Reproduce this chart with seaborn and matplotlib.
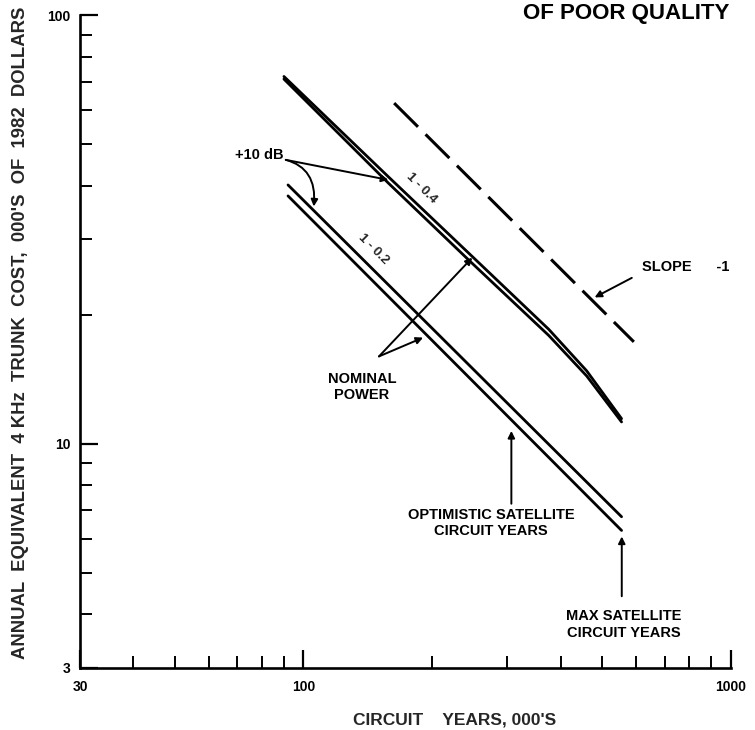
import numpy as np
import pandas as pd
import matplotlib
matplotlib.use("Agg")
import matplotlib.pyplot as plt
import seaborn as sns
from matplotlib.ticker import LogLocator, NullFormatter, FixedLocator

# --- Data ---
upper_x = [90, 158, 247, 375, 460, 555]
upper_a_y = [72.0, 42.0, 27.5, 18.5, 14.8, 11.45]   # nominal power, 1 - 0.4
upper_b_y = [71.0, 40.6, 26.5, 17.9, 14.4, 11.25]   # +10 dB, 1 - 0.4

lower_x = [92, 555]
lower_a_y = [40.2, 6.76]                       # nominal power, 1 - 0.2
lower_b_y = [37.9, 6.28]                       # +10 dB, 1 - 0.2

slope_x = [163, 593]
slope_y = [62.4, 17.3]

x_ticks = [30, 100, 1000]
x_tick_labels = ['30', '100', '1000']
y_ticks = [3, 10, 100]
y_tick_labels = ['3', '10', '100']

# --- Style ---
sns.set_theme(style="ticks")
plt.rcParams['font.family'] = ['Liberation Sans', 'DejaVu Sans']
plt.rcParams['font.weight'] = 'bold'

fig = plt.figure(figsize=(7.55, 7.3), dpi=100)
ax = fig.add_axes([0.106, 0.085, 0.862, 0.894])

lines = pd.concat([
    pd.DataFrame({'x': upper_x, 'y': upper_a_y, 'series': 'upper_a'}),
    pd.DataFrame({'x': upper_x, 'y': upper_b_y, 'series': 'upper_b'}),
    pd.DataFrame({'x': lower_x, 'y': lower_a_y, 'series': 'lower_a'}),
    pd.DataFrame({'x': lower_x, 'y': lower_b_y, 'series': 'lower_b'}),
])
for name, grp in lines.groupby('series'):
    sns.lineplot(data=grp, x='x', y='y', color='black', lw=2.0, ax=ax,
                 estimator=None, legend=False)

slope_df = pd.DataFrame({'x': slope_x, 'y': slope_y})
sns.lineplot(data=slope_df, x='x', y='y', color='black', lw=2.2,
             dashes=False, ax=ax, legend=False)
ax.lines[-1].set_dashes((11, 3.5))

ax.set_xscale('log')
ax.set_yscale('log')
ax.set_xlim(30, 1000)
ax.set_ylim(3, 100)

ax.xaxis.set_major_locator(FixedLocator(x_ticks))
ax.set_xticklabels(x_tick_labels)
ax.yaxis.set_major_locator(FixedLocator(y_ticks))
ax.set_yticklabels(y_tick_labels)
ax.xaxis.set_minor_locator(LogLocator(base=10, subs=np.arange(2, 10)))
ax.yaxis.set_minor_locator(LogLocator(base=10, subs=np.arange(2, 10)))
ax.xaxis.set_minor_formatter(NullFormatter())
ax.yaxis.set_minor_formatter(NullFormatter())

ax.tick_params(which='major', direction='in', length=13, width=1.6,
               labelsize=10, color='black', labelcolor='black')
ax.tick_params(which='minor', direction='in', length=8.5, width=1.4, color='black')
ax.tick_params(axis='x', pad=9)
ax.tick_params(axis='y', pad=7)
for lab in ax.get_xticklabels() + ax.get_yticklabels():
    lab.set_fontweight('bold')

sns.despine(ax=ax)
for sp in ['left', 'bottom']:
    ax.spines[sp].set_linewidth(1.9)
    ax.spines[sp].set_color('black')

ax.set_xlabel("CIRCUIT    YEARS, 000'S", fontsize=12.5, fontweight='bold')
ax.xaxis.set_label_coords(0.576, -0.068)
ax.set_ylabel("ANNUAL  EQUIVALENT  4 KHz  TRUNK  COST,  000'S  OF  1982  DOLLARS",
              fontsize=13.3, fontweight='bold')
ax.yaxis.set_label_coords(-0.078, 0.514)

# --- Annotations ---
arrow = dict(arrowstyle='-|>', color='black', lw=1.4, mutation_scale=10,
             shrinkA=0, shrinkB=0)
txt = dict(fontsize=10.5, fontweight='bold', color='black')

ax.text(89.9, 47.3, '+10 dB', ha='right', va='center', **txt)
ax.annotate('', xy=(158, 41.3), xytext=(90.9, 46.0), arrowprops=arrow)
ax.annotate('', xy=(105.7, 35.8), xytext=(90.9, 46.0),
            arrowprops=dict(arrow, connectionstyle='angle3,angleA=-15,angleB=85'))

ax.text(188.5, 39.6, '1 - 0.4', rotation=-45, ha='center', va='center',
        rotation_mode='anchor', fontsize=9.5, fontweight='bold')
ax.text(145.4, 28.4, '1 - 0.2', rotation=-45, ha='center', va='center',
        rotation_mode='anchor', fontsize=9.5, fontweight='bold')

ax.text(137, 13.57, 'NOMINAL\nPOWER', ha='center', va='center',
        linespacing=1.2, **txt)
ax.annotate('', xy=(248.3, 27.2), xytext=(150.2, 16.0), arrowprops=arrow)
ax.annotate('', xy=(190.5, 17.7), xytext=(150.2, 16.0), arrowprops=arrow)

ax.text(619, 25.9, 'SLOPE      -1', ha='left', va='center', **txt)
ax.annotate('', xy=(480, 21.97), xytext=(586.5, 24.4), arrowprops=arrow)

ax.text(275, 6.55, 'OPTIMISTIC SATELLITE\nCIRCUIT YEARS', ha='center', va='center',
        linespacing=1.2, **txt)
ax.annotate('', xy=(306.5, 10.72), xytext=(306.5, 7.25), arrowprops=arrow)

ax.text(561.6, 3.79, 'MAX SATELLITE\nCIRCUIT YEARS', ha='center', va='center',
        linespacing=1.2, **txt)
ax.annotate('', xy=(555.6, 6.08), xytext=(555.6, 4.41), arrowprops=arrow)

fig.text(523 / 755, 1 - 19 / 730, 'OF POOR QUALITY', fontsize=16,
         fontweight='bold', ha='left', va='baseline', color='black')

fig.savefig('out.png', dpi=100)
